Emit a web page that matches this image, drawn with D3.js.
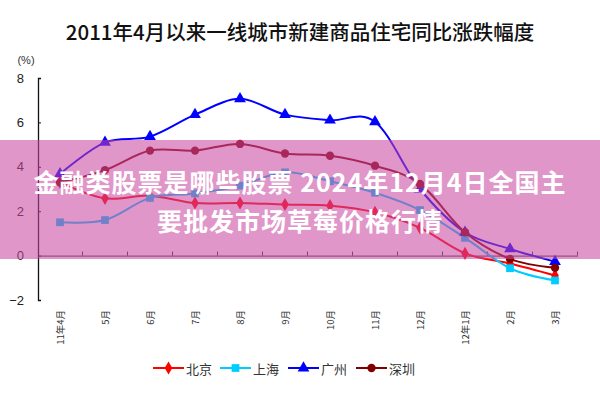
<!DOCTYPE html>
<html><head><meta charset="utf-8">
<script src="https://cdn.jsdelivr.net/npm/d3@7"></script>
<style>body{margin:0;background:#fff}svg{display:block}</style>
</head><body>
<svg id="c" width="600" height="400"></svg>
<script>
const months = ["11年4月","5月","6月","7月","8月","9月","10月","11月","12月","12年1月","2月","3月"];
const beijing   = [3.3, 2.58, 2.7, 2.37, 2.37, 2.3, 2.25, 1.95, 1.25, 0.1, -0.36, -0.9];
const shanghai  = [1.5, 1.6, 2.6, 2.8, 3.15, 3.75, 3.35, 2.83, 2.05, 0.8, -0.57, -1.12];
const guangzhou = [3.68, 5.1, 5.36, 6.35, 7.06, 6.35, 6.1, 6.03, 3.0, 1.05, 0.3, -0.27];
const shenzhen  = [3.3, 3.85, 4.73, 4.73, 5.03, 4.6, 4.5, 4.05, 3.23, 1.05, -0.15, -0.55];
const yTicks = [-2, 0, 2, 4, 6, 8];
const seriesNames = ["北京","上海","广州","深圳"];
const title = "2011年4月以来一线城市新建商品住宅同比涨跌幅度";
const overlayLines = ["金融类股票是哪些股票 2024年12月4日全国主","要批发市场草莓价格行情"];

const series = [
  {name: seriesNames[0], values: beijing,   color: "#ff0000", sym: d3.symbolDiamond, size: 50},
  {name: seriesNames[1], values: shanghai,  color: "#00ccff", sym: d3.symbolSquare,  size: 60},
  {name: seriesNames[2], values: guangzhou, color: "#0000ff", sym: d3.symbolTriangle, size: 60},
  {name: seriesNames[3], values: shenzhen,  color: "#800000", sym: d3.symbolCircle,  size: 55}
];

const svg = d3.select("#c");
const font = "'Liberation Sans', Arial, 'Noto Sans CJK SC', sans-serif";
const cjk = "'Noto Sans CJK SC', sans-serif";

const x = d3.scaleBand().domain(months).range([37.5, 577.5]);
const y = d3.scaleLinear().domain([-2, 8]).range([300, 78]);
const cx = m => x(m) + x.bandwidth() / 2;

svg.append("text").attr("x", 300).attr("y", 31).attr("text-anchor", "middle")
  .attr("dominant-baseline", "central").attr("font-family", cjk).attr("font-size", 20.5)
  .attr("font-weight", 500).attr("fill", "#111").text(title);

svg.append("text").attr("x", 26).attr("y", 60).attr("text-anchor", "middle")
  .attr("dominant-baseline", "central").attr("font-family", font).attr("font-size", 11)
  .attr("fill", "#333").text("(%)");

// y axis
const yAxis = d3.axisLeft(y).tickValues(yTicks).tickSize(-3).tickPadding(14).tickFormat(d3.format("d"));
const gy = svg.append("g").attr("transform", "translate(38,0)").call(yAxis);
gy.select(".domain").attr("stroke", "#111").attr("stroke-width", 1.3);
gy.selectAll(".tick line").attr("stroke", "#111");
gy.selectAll(".tick text").attr("font-family", font).attr("font-size", 13).attr("fill", "#222");

// x axis at zero
const xAxis = d3.axisTop(x).tickSize(0).tickFormat("");
const gx = svg.append("g").attr("transform", `translate(0,${y(0)})`).call(xAxis);
gx.select(".domain").attr("stroke", "#333").attr("stroke-width", 1);
gx.selectAll(".tick").remove();
gx.selectAll("line.bnd").data(months).enter().append("line").attr("class", "bnd")
  .attr("x1", d => x(d) + x.bandwidth()).attr("x2", d => x(d) + x.bandwidth())
  .attr("y1", 0).attr("y2", -4).attr("stroke", "#333");

// x labels rotated
svg.append("g").selectAll("text").data(months).enter().append("text")
  .attr("transform", d => `translate(${cx(d) + 3.5},310) rotate(-90)`)
  .attr("text-anchor", "end").attr("font-family", cjk).attr("font-size", 9.5)
  .attr("fill", "#333").text(d => d);

// lines
const line = d3.line().x((d, i) => cx(months[i])).y(d => y(d)).curve(d3.curveCardinal.tension(0));
series.forEach(s => {
  const g = svg.append("g");
  g.append("path").datum(s.values).attr("d", line).attr("fill", "none")
    .attr("stroke", s.color).attr("stroke-width", 2);
  g.selectAll("path.m").data(s.values).enter().append("path").attr("class", "m")
    .attr("d", d3.symbol().type(s.sym).size(s.size))
    .attr("transform", (d, i) => `translate(${cx(months[i])},${y(d)})`)
    .attr("fill", s.color);
});

// legend
const legX = [153, 220, 288, 356];
series.forEach((s, i) => {
  const g = svg.append("g").attr("transform", `translate(${legX[i]},368)`);
  g.append("line").attr("x1", 0).attr("x2", 31).attr("stroke", s.color).attr("stroke-width", 2);
  g.append("path").attr("d", d3.symbol().type(s.sym).size(s.size)).attr("transform", "translate(15.5,0)").attr("fill", s.color);
  g.append("text").attr("x", 33).attr("y", 0).attr("dominant-baseline", "central")
    .attr("font-family", cjk).attr("font-size", 13).attr("fill", "#333").text(s.name);
});

// overlay band
svg.append("rect").attr("x", 0).attr("y", 140).attr("width", 600).attr("height", 119)
  .attr("fill", "rgb(200,70,160)").attr("fill-opacity", 0.57);
svg.append("g").selectAll("text").data(overlayLines).enter().append("text")
  .attr("x", 300).attr("y", (d, i) => 181 + i * 39).attr("text-anchor", "middle")
  .attr("dominant-baseline", "central").attr("font-family", cjk).attr("font-weight", 700)
  .attr("font-size", 25).attr("letter-spacing", 1).attr("fill", "#fff").text(d => d);
</script>
</body></html>
